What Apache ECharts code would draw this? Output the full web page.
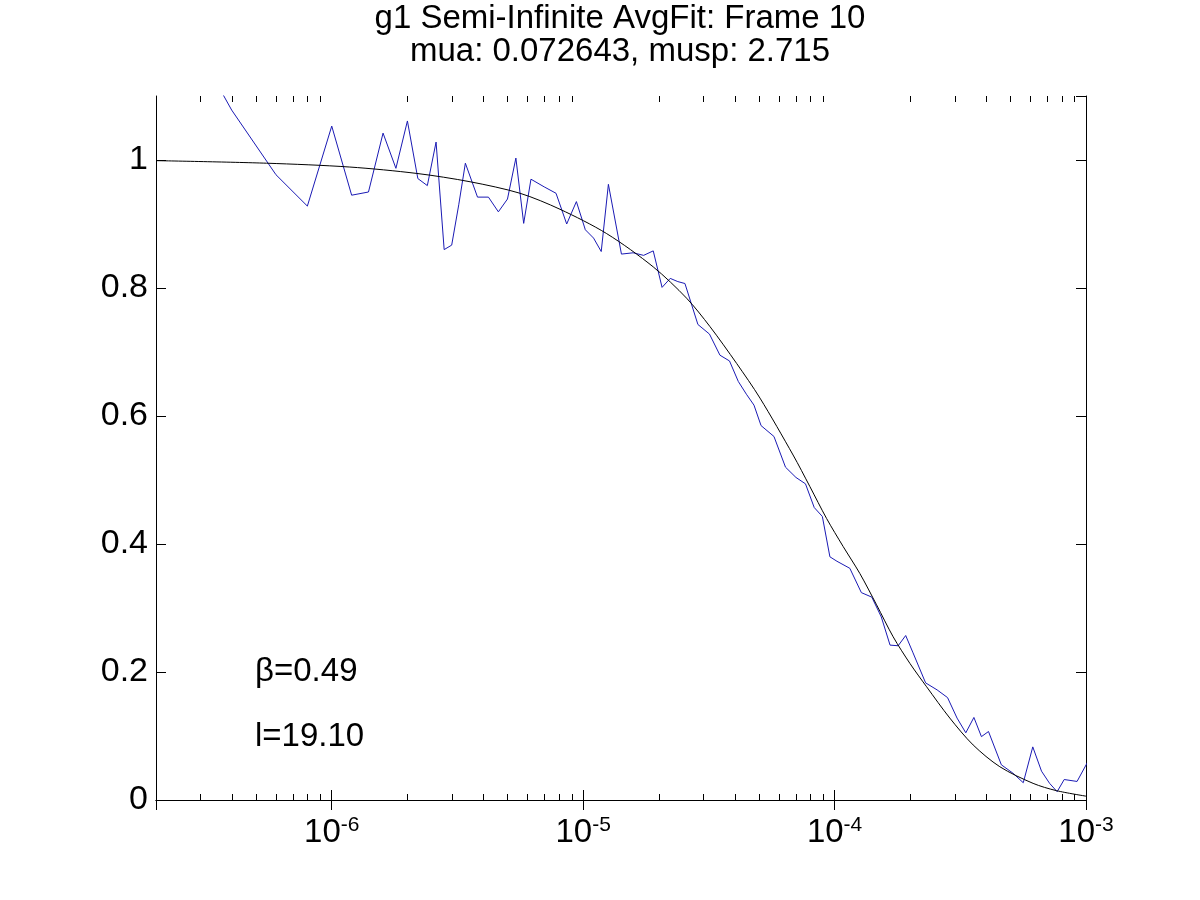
<!DOCTYPE html>
<html>
<head>
<meta charset="utf-8">
<title>g1 Semi-Infinite AvgFit: Frame 10</title>
<script src="https://cdn.jsdelivr.net/npm/echarts@6/dist/echarts.min.js"></script>
<style>
html, body { margin: 0; padding: 0; background: #fff; }
#chart { width: 1200px; height: 900px; }
</style>
</head>
<body>
<div id="chart"></div>
<script>
// correlator lag times (microseconds) and measured g1
var tauUs = [0.2, 0.4, 0.6, 0.8, 1.0, 1.2, 1.4, 1.6, 1.8, 2.0, 2.2, 2.4, 2.6, 2.8, 3.0, 3.2, 3.4,
	3.8, 4.2, 4.6, 5.0, 5.4, 5.8, 6.2,
	7.0, 7.8, 8.6, 9.4, 10.2, 11.0, 11.8, 12.6,
	14.2, 15.8, 17.4, 19.0, 20.6, 22.2, 23.8, 25.4,
	28.6, 31.8, 35.0, 38.2, 41.4, 44.6, 47.8, 51.0,
	57.4, 63.8, 70.2, 76.6, 83.0, 89.4, 95.8, 102.2,
	115.0, 127.8, 140.6, 153.4, 166.2, 179.0, 191.8, 204.6,
	230.2, 255.8, 281.4, 307.0, 332.6, 358.2, 383.8, 409.4,
	460.6, 511.8, 563.0, 614.2, 665.4, 716.6, 767.8, 819.0,
	921.4, 1023.8];
var g1Data = [1.29, 1.078, 0.977, 0.928, 1.053, 0.945, 0.950, 1.042, 0.987, 1.061, 0.971, 0.960, 1.028, 0.860, 0.867, 0.930, 0.995,
	0.942, 0.942, 0.919, 0.939, 1.003, 0.901, 0.970,
	0.958, 0.948, 0.900, 0.935, 0.891, 0.878, 0.857, 0.962,
	0.853, 0.855, 0.851, 0.858, 0.801, 0.815, 0.810, 0.807,
	0.743, 0.728, 0.695, 0.686, 0.654, 0.634, 0.617, 0.585,
	0.568, 0.520, 0.504, 0.494, 0.457, 0.443, 0.380, 0.373,
	0.362, 0.324, 0.317, 0.286, 0.242, 0.241, 0.257, 0.231,
	0.183, 0.172, 0.160, 0.128, 0.105, 0.129, 0.099, 0.107,
	0.055, 0.042, 0.027, 0.083, 0.045, 0.026, 0.013, 0.032,
	0.029, 0.062];

// fitted curve
var fitTauUs = [0.2, 0.55, 1.18, 2.18, 3.55, 5.61, 8.09, 12.4, 19.0, 25.8, 31.9, 40.8, 50.5, 68.4, 79.7,
	92.9, 108.2, 126.0, 146.9, 171.0, 199.3, 232.2, 287.3, 355.7, 454.2, 616, 763, 1000];
var fitG1 = [0.999, 0.995, 0.989, 0.979, 0.966, 0.948, 0.923, 0.885, 0.833, 0.784, 0.740, 0.682, 0.628, 0.539, 0.490,
	0.440, 0.396, 0.354, 0.305, 0.255, 0.2135, 0.177, 0.128, 0.086, 0.052, 0.026, 0.0146, 0.006];

var xMin = 2e-7, xMax = 1e-3;
var yMin = 0, yMax = 1.1, yStep = 0.2;

var titleLines = ['g1 Semi-Infinite AvgFit: Frame 10', 'mua: 0.072643, musp: 2.715'];
var noteLines = ['\u03b2=0.49', 'l=19.10'];

var fontFam = "'Liberation Sans', Arial, Helvetica, sans-serif";

function toPairs(xs, ys){
	var out = [];
	for(var i=0;i<xs.length;i++){
		out.push([xs[i] * 1e-6, ys[i]]);
	}
	return out;
}

// minor ticks of the log axis: 2..9 times each decade
var minorTicks = [];
for(var d=-7; d<=-4; d++){
	for(var k=2; k<=9; k++){
		var v = k * Math.pow(10, d);
		if(v > xMin * 1.0001 && v < xMax) minorTicks.push([v, 0]);
	}
}

function expLabel(val){
	var lg = Math.log(val) / Math.LN10;
	var e = Math.round(lg);
	if(Math.abs(lg - e) > 1e-6) return '';
	return '{b|10}{s|' + e + '}';
}

function renderMinorTick(params, api){
	var v = api.value(0);
	var b = api.coord([v, yMin]);
	var t = api.coord([v, yMax]);
	var x = Math.round(b[0]) + 0.5;
	return {
		type: 'group',
		children: [
			{type: 'line', shape: {x1: x, y1: b[1], x2: x, y2: b[1] - 6}, style: {stroke: '#000', lineWidth: 1}},
			{type: 'line', shape: {x1: x, y1: t[1], x2: x, y2: t[1] + 6}, style: {stroke: '#000', lineWidth: 1}}
		]
	};
}

var axisLineStyle = {show: true, lineStyle: {color: '#000', width: 1}};

var myChart = echarts.init(document.getElementById('chart'), null, {renderer: 'canvas'});

var option = {
	backgroundColor: '#fff',
	animation: false,
	grid: {left: 156, right: 114, top: 96, bottom: 100, containLabel: false},
	graphic: [
		{
			type: 'text',
			style: {
				text: titleLines.join('\n'),
				x: 620, y: 2,
				textAlign: 'center', textVerticalAlign: 'top',
				font: '33px ' + fontFam, lineHeight: 33.5, fill: '#000'
			}
		},
		{
			type: 'text',
			style: {
				text: noteLines[0],
				x: 255, y: 655,
				textAlign: 'left', textVerticalAlign: 'top',
				font: '33px ' + fontFam, fill: '#000'
			}
		},
		{
			type: 'text',
			style: {
				text: noteLines[1],
				x: 255, y: 720,
				textAlign: 'left', textVerticalAlign: 'top',
				font: '33px ' + fontFam, fill: '#000'
			}
		}
	],
	xAxis: [
		{
			type: 'log', logBase: 10, min: xMin, max: xMax, position: 'bottom',
			axisLine: axisLineStyle,
			axisTick: {show: true, inside: true, length: 10, lineStyle: {color: '#000'}},
			splitLine: {show: false},
			axisLabel: {
				show: true, margin: 15, color: '#000',
				showMinLabel: true, showMaxLabel: true,
				formatter: expLabel,
				rich: {
					b: {fontSize: 33, fontFamily: fontFam, color: '#000', lineHeight: 36},
					s: {fontSize: 21, fontFamily: fontFam, color: '#000', lineHeight: 36, verticalAlign: 'top', padding: [0, 0, 16, 0]}
				}
			}
		},
		{
			type: 'log', logBase: 10, min: xMin, max: xMax, position: 'top',
			axisLine: axisLineStyle,
			axisTick: {show: true, inside: true, length: 10, lineStyle: {color: '#000'}},
			splitLine: {show: false},
			axisLabel: {show: false}
		}
	],
	yAxis: [
		{
			type: 'value', min: yMin, max: yMax, interval: yStep, position: 'left',
			axisLine: axisLineStyle,
			axisTick: {show: true, inside: true, length: 10, lineStyle: {color: '#000'}},
			splitLine: {show: false},
			axisLabel: {
				show: true, margin: 8, color: '#000', fontSize: 34, fontFamily: fontFam,
				showMaxLabel: false
			}
		},
		{
			type: 'value', min: yMin, max: yMax, interval: yStep, position: 'right',
			axisLine: axisLineStyle,
			axisTick: {show: true, inside: true, length: 10, lineStyle: {color: '#000'}},
			splitLine: {show: false},
			axisLabel: {show: false}
		}
	],
	series: [
		{
			name: 'data', type: 'line', xAxisIndex: 0, yAxisIndex: 0,
			data: toPairs(tauUs, g1Data),
			showSymbol: false, clip: true, smooth: false,
			lineStyle: {color: '#1a1ab4', width: 1},
			z: 3
		},
		{
			name: 'fit', type: 'line', xAxisIndex: 0, yAxisIndex: 0,
			data: toPairs(fitTauUs, fitG1),
			showSymbol: false, clip: true, smooth: 0.3,
			lineStyle: {color: '#000', width: 1},
			z: 4
		},
		{
			name: 'minor', type: 'custom', xAxisIndex: 0, yAxisIndex: 0,
			data: minorTicks, renderItem: renderMinorTick,
			silent: true, clip: false, z: 5
		}
	]
};

myChart.setOption(option);
</script>
</body>
</html>
